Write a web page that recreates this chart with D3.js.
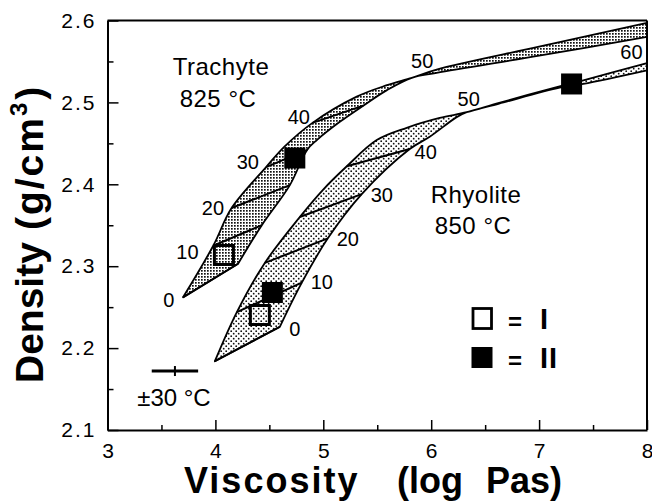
<!DOCTYPE html>
<html><head><meta charset="utf-8">
<script src="https://cdn.jsdelivr.net/npm/d3@7"></script>
<style>
body{margin:0;background:#fff;}
svg{display:block;font-family:"Liberation Sans",Arial,Helvetica,sans-serif;}
</style></head><body>
<svg id="chart" width="652" height="503"></svg>
<script>
// ---------- data ----------
const xTicks = [3, 4, 5, 6, 7, 8];
const xMinorTicks = [3.5, 4.5, 5.5, 6.5, 7.5];
const yTicks = [2.1, 2.2, 2.3, 2.4, 2.5, 2.6];
const yMinorTicks = [2.15, 2.25, 2.35, 2.45, 2.55];

// Trachyte band (825 °C): upper-left edge and lower-right edge [viscosity, density]
const trachyteUpper = [[3.70,2.262],[3.98,2.325],[4.15,2.371],[4.47,2.421],[4.64,2.446],[4.90,2.475],[5.31,2.507],[5.59,2.521],[5.82,2.530],[6.05,2.540],[7.00,2.568],[8.00,2.597]];
const trachyteLower = [[3.70,2.262],[4.21,2.303],[4.43,2.350],[4.69,2.399],[4.85,2.442],[4.94,2.454],[5.15,2.476],[5.37,2.496],[5.59,2.515],[5.82,2.530],[6.05,2.536],[7.00,2.557],[8.00,2.580]];
const trachyteIso = [[[3.70,2.262],[4.21,2.303]],[[3.98,2.325],[4.43,2.350]],[[4.15,2.371],[4.69,2.399]],[[4.47,2.421],[4.85,2.442]],[[4.90,2.475],[5.37,2.496]]];
const trachyteLabels = ["0","10","20","30","40","50"];
const trachyteLabelPos = [[3.569,2.259],[3.741,2.317],[3.977,2.371],[4.301,2.428],[4.773,2.482],[5.917,2.5505]];

// Rhyolite band (850 °C)
const rhyoliteUpper = [[3.995,2.184],[4.199,2.244],[4.458,2.304],[4.782,2.360],[4.995,2.393],[5.218,2.422],[5.495,2.454],[5.773,2.469],[6.079,2.481],[6.329,2.488],[6.63,2.4995],[7.19,2.5195],[7.41,2.527],[8.00,2.548]];
const rhyoliteLower = [[3.995,2.184],[4.597,2.226],[4.801,2.280],[5.042,2.334],[5.356,2.388],[5.801,2.443],[5.986,2.458],[6.236,2.482],[6.329,2.488],[6.63,2.4985],[7.19,2.518],[7.41,2.5225],[8.00,2.539]];
const rhyoliteIso = [[[3.995,2.184],[4.597,2.226]],[[4.199,2.244],[4.801,2.280]],[[4.458,2.304],[5.042,2.334]],[[4.782,2.360],[5.356,2.388]],[[5.218,2.422],[5.801,2.443]]];
const rhyoliteLabels = ["0","10","20","30","40","50","60"];
const rhyoliteLabelPos = [[4.736,2.2233],[4.986,2.2807],[5.227,2.3332],[5.542,2.3869],[5.949,2.4394],[6.347,2.5041],[7.856,2.5615]];

// Experimental points: type I (open) and type II (filled)
const pointsI = [[4.079,2.3137],[4.412,2.2404]];
const pointsII = [[4.736,2.4321],[4.528,2.2679],[7.301,2.5225]];

// ±30 °C error bar
const errCenter = [3.625, 2.172];
const errHalf = 0.215;

// ---------- drawing ----------
const svg = d3.select("#chart");
const x = d3.scaleLinear().domain([3, 8]).range([107.5, 647]);
const y = d3.scaleLinear().domain([2.1, 2.6]).range([430, 20.5]);

const defs = svg.append("defs");
const pT = defs.append("pattern").attr("id","patT").attr("width",3).attr("height",3).attr("patternUnits","userSpaceOnUse");
pT.append("rect").attr("width",3).attr("height",3).attr("fill","#fff");
pT.append("rect").attr("width",1.7).attr("height",1.7).attr("fill","#111");
const pR = defs.append("pattern").attr("id","patR").attr("width",5).attr("height",5).attr("patternUnits","userSpaceOnUse");
pR.append("rect").attr("width",5).attr("height",5).attr("fill","#fff");
pR.append("circle").attr("cx",1.2).attr("cy",1.2).attr("r",0.9).attr("fill","#111");
pR.append("circle").attr("cx",3.7).attr("cy",3.7).attr("r",0.9).attr("fill","#111");

const line = d3.line().x(d => x(d[0])).y(d => y(d[1]));
const curve = d3.line().x(d => x(d[0])).y(d => y(d[1])).curve(d3.curveCatmullRom.alpha(0.5));
function band(upper, lower, pat) {
  const up = curve(upper);
  // lower edge: smooth from its far end back to the "0" corner, then straight "0" line back to the tip
  const lo = curve(lower.slice(1).reverse()).replace(/^M/, "L");
  svg.append("path").attr("d", up + lo + "Z")
    .attr("fill", `url(#${pat})`).attr("stroke","#000").attr("stroke-width",1.8).attr("stroke-linejoin","round");
}
band(trachyteUpper, trachyteLower, "patT");
band(rhyoliteUpper, rhyoliteLower, "patR");

function isos(list) {
  svg.append("g").selectAll("path").data(list).join("path")
    .attr("d", d => line(d)).attr("stroke","#000").attr("stroke-width",2).attr("fill","none");
}
isos(trachyteIso);
isos(rhyoliteIso);

function labels(txt, pos) {
  svg.append("g").selectAll("text").data(txt).join("text")
    .attr("x",(d,i)=>x(pos[i][0])).attr("y",(d,i)=>y(pos[i][1]))
    .attr("text-anchor","middle").attr("dy","0.36em")
    .attr("font-size",20).text(d=>d);
}
labels(trachyteLabels, trachyteLabelPos);
labels(rhyoliteLabels, rhyoliteLabelPos);

// markers
svg.append("g").selectAll("rect").data(pointsI).join("rect")
  .attr("x",d=>x(d[0])-9.5).attr("y",d=>y(d[1])-9.5).attr("width",19).attr("height",19)
  .attr("fill","none").attr("stroke","#000").attr("stroke-width",3);
svg.append("g").selectAll("rect").data(pointsII).join("rect")
  .attr("x",d=>x(d[0])-10.5).attr("y",d=>y(d[1])-10.5).attr("width",21).attr("height",21)
  .attr("fill","#000");

// error bar
svg.append("line").attr("x1",x(errCenter[0]-errHalf)).attr("x2",x(errCenter[0]+errHalf))
  .attr("y1",y(errCenter[1])).attr("y2",y(errCenter[1])).attr("stroke","#000").attr("stroke-width",3);
svg.append("line").attr("x1",x(errCenter[0])).attr("x2",x(errCenter[0]))
  .attr("y1",y(errCenter[1])-5).attr("y2",y(errCenter[1])+5).attr("stroke","#000").attr("stroke-width",2);
svg.append("text").attr("x",x(errCenter[0])-1).attr("y",406).attr("text-anchor","middle")
  .attr("font-size",24).text("±30 °C");

// annotations
const ann = [["Trachyte",221,75],["825 °C",218,107],["Rhyolite",476,203],["850 °C",473,234]];
svg.append("g").selectAll("text").data(ann).join("text")
  .attr("x",d=>d[1]).attr("y",d=>d[2]).attr("text-anchor","middle")
  .attr("font-size",24).attr("letter-spacing",0.5).text(d=>d[0]);

// legend
const lg = svg.append("g");
lg.append("rect").attr("x",473).attr("y",308.5).attr("width",18.5).attr("height",20).attr("fill","none").attr("stroke","#000").attr("stroke-width",2.8);
lg.append("rect").attr("x",471.5).attr("y",347).attr("width",21).attr("height",21).attr("fill","#000");
lg.append("text").attr("x",515).attr("y",330).attr("text-anchor","middle").attr("font-size",24).attr("font-weight","bold").text("=");
lg.append("text").attr("x",515).attr("y",369).attr("text-anchor","middle").attr("font-size",24).attr("font-weight","bold").text("=");
lg.append("text").attr("x",540).attr("y",329).attr("font-size",29).attr("font-weight","bold").text("I");
lg.append("text").attr("x",540).attr("y",368).attr("font-size",29).attr("font-weight","bold").attr("letter-spacing",1).text("II");

// axes
const gxMinor = svg.append("g").attr("transform",`translate(0,${y(2.1)})`)
  .call(d3.axisBottom(x).tickValues(xMinorTicks).tickSizeInner(-5).tickSizeOuter(0).tickFormat(""));
gxMinor.select(".domain").remove();
const gyMinor = svg.append("g").attr("transform",`translate(${x(3)},0)`)
  .call(d3.axisLeft(y).tickValues(yMinorTicks).tickSizeInner(-6).tickSizeOuter(0).tickFormat(""));
gyMinor.select(".domain").remove();

const gx = svg.append("g").attr("transform",`translate(0,${y(2.1)})`)
  .call(d3.axisBottom(x).tickValues(xTicks).tickSizeInner(-10).tickSizeOuter(0).tickPadding(13).tickFormat(d3.format("d")));
const gy = svg.append("g").attr("transform",`translate(${x(3)},0)`)
  .call(d3.axisLeft(y).tickValues(yTicks).tickSizeInner(-11).tickSizeOuter(0).tickPadding(11).tickFormat(d3.format(".1f")));
[gx, gy, gxMinor, gyMinor].forEach(g => {
  g.selectAll(".tick line").attr("stroke","#000").attr("stroke-width",1.5);
  g.selectAll("text").attr("font-size",21).attr("fill","#000").attr("font-family","'Liberation Sans',Arial,sans-serif");
  g.select(".domain").attr("stroke","#000").attr("stroke-width",2);
});
gy.selectAll("text").attr("letter-spacing",2);

// frame top & right
svg.append("line").attr("x1",x(3)).attr("x2",x(8)).attr("y1",y(2.6)).attr("y2",y(2.6)).attr("stroke","#000").attr("stroke-width",2);
svg.append("line").attr("x1",x(8)).attr("x2",x(8)).attr("y1",y(2.6)).attr("y2",y(2.1)).attr("stroke","#000").attr("stroke-width",2);

// axis titles
const xt = svg.append("text").attr("y",493).attr("font-size",36).attr("font-weight","bold");
xt.append("tspan").attr("x",184).attr("letter-spacing",2).text("Viscosity");
xt.append("tspan").attr("x",397).text("(log");
xt.append("tspan").attr("x",486).text("Pas)");

const yt = svg.append("text").attr("transform","translate(43,383) rotate(-90)")
  .attr("font-size",39).attr("font-weight","bold");
yt.append("tspan").text("Density");
yt.append("tspan").attr("dx",12).attr("letter-spacing",2).text("(g/cm");
yt.append("tspan").attr("font-size",24).attr("dy",-16).text("3");
yt.append("tspan").attr("dy",16).attr("dx",3).text(")");
</script>
</body></html>
